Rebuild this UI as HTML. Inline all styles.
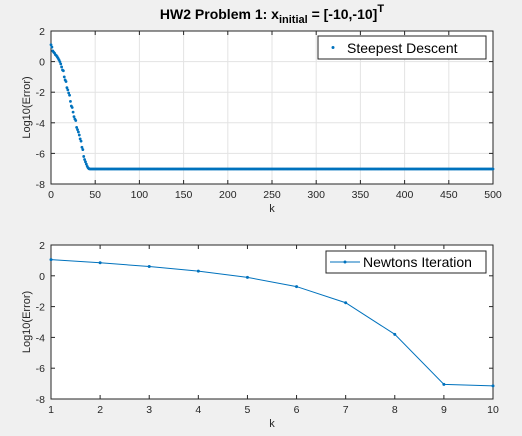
<!DOCTYPE html>
<html><head><meta charset="utf-8"><style>
body{margin:0;background:#f0f0f0;}
svg{display:block;font-family:"Liberation Sans",sans-serif;}
</style></head><body>
<svg id="c" width="522" height="436"></svg>
<script>
const sdHead=[1.1,0.95,0.7,0.62,0.55,0.45,0.4,0.32,0.22,0.12,0.0,-0.15,-0.35,-0.55,-0.6,-1.0,-1.2,-1.3,-1.7,-1.85,-2.05,-2.2,-2.6,-2.9,-3.0,-3.3,-3.6,-3.75,-3.85,-4.3,-4.45,-4.6,-4.8,-5.05,-5.2,-5.6,-5.75,-6.2,-6.4,-6.55,-6.7,-6.85,-6.95,-7.0];
const sdPlateauValue=-7.02;
const sdPlateauCount=457;
const sdValues=sdHead.concat(Array(sdPlateauCount).fill(sdPlateauValue));
const nwK=[1,2,3,4,5,6,7,8,9,10];
const nwValues=[1.05,0.85,0.6,0.3,-0.1,-0.7,-1.75,-3.8,-7.05,-7.15];
const yTicks=[2,0,-2,-4,-6,-8];
const xTicksTop=[0,50,100,150,200,250,300,350,400,450,500];
const xTicksBot=[1,2,3,4,5,6,7,8,9,10];
const NS="http://www.w3.org/2000/svg";
const svg=document.getElementById('c');
function mk(t,a,p){const e=document.createElementNS(NS,t);for(const k in a)e.setAttribute(k,a[k]);(p||svg).appendChild(e);return e;}
function axes(L,R,T,B,x0,x1,y0,y1,xt,grid,name){
  const g=mk('g',{});
  
  
  const sx=v=>L+(v-x0)/(x1-x0)*(R-L), sy=v=>B-(v-y0)/(y1-y0)*(B-T);
  mk('rect',{x:L,y:T,width:R-L,height:B-T,fill:'#fff'},g);
  if(grid){xt.forEach(v=>mk('line',{x1:sx(v),x2:sx(v),y1:T,y2:B,stroke:'#e3e3e3','stroke-width':1},g));
    yTicks.forEach(v=>mk('line',{x1:L,x2:R,y1:sy(v),y2:sy(v),stroke:'#e3e3e3','stroke-width':1},g));}
  xt.forEach(v=>{mk('line',{x1:sx(v),x2:sx(v),y1:B,y2:B-4,stroke:'#262626'},g);mk('line',{x1:sx(v),x2:sx(v),y1:T,y2:T+4,stroke:'#262626'},g);
    const t=mk('text',{x:sx(v),y:B+14,'text-anchor':'middle','font-size':10.5,fill:'#262626'},g);t.textContent=v;});
  yTicks.forEach(v=>{mk('line',{x1:L,x2:L+4,y1:sy(v),y2:sy(v),stroke:'#262626'},g);mk('line',{x1:R,x2:R-4,y1:sy(v),y2:sy(v),stroke:'#262626'},g);
    const t=mk('text',{x:L-6,y:sy(v)+4,'text-anchor':'end','font-size':10.5,fill:'#262626'},g);t.textContent=v;});
  mk('rect',{x:L,y:T,width:R-L,height:B-T,fill:'none',stroke:'#262626','stroke-width':1},g);
  const xl=mk('text',{x:(L+R)/2,y:B+28,'text-anchor':'middle','font-size':11,fill:'#262626'},g);xl.textContent='k';
  const yl=mk('text',{x:0,y:0,transform:`translate(${L-21},${(T+B)/2}) rotate(-90)`,'text-anchor':'middle','font-size':11,fill:'#262626'},g);yl.textContent='Log10(Error)';
  return {sx,sy,g};
}
const t=mk('text',{x:272,y:19,'text-anchor':'middle','font-size':14,'font-weight':'bold',fill:'#000'});

t.innerHTML='HW2 Problem 1: x<tspan font-size="11" dy="4">initial</tspan><tspan dy="-4"> = [-10,-10]</tspan><tspan font-size="11" dy="-7">T</tspan>';
const A=axes(51,493,31,184,0,500,-8,2,xTicksTop,true,'steepest-descent-plot');
sdValues.forEach((v,i)=>{const c=mk('circle',{cx:A.sx(i),cy:A.sy(v),r:1.4,fill:'#0072bd'},A.g);
  });
const lg1=mk('g',{});
mk('rect',{x:318,y:36,width:168,height:23,fill:'#fff',stroke:'#262626'},lg1);
mk('circle',{cx:333,cy:47.5,r:1.5,fill:'#0072bd'},lg1);
const l1=mk('text',{x:347,y:53,'font-size':14,fill:'#000'},lg1);l1.textContent='Steepest Descent';
const B2=axes(51,493,245,399,1,10,-8,2,xTicksBot,false,'newton-plot');
const pts=nwK.map((k,i)=>B2.sx(k)+','+B2.sy(nwValues[i])).join(' ');
const pl=mk('polyline',{points:pts,fill:'none',stroke:'#0072bd','stroke-width':1},B2.g);

nwK.forEach((k,i)=>{const c=mk('circle',{cx:B2.sx(k),cy:B2.sy(nwValues[i]),r:1.5,fill:'#0072bd'},B2.g);
  });
const lg2=mk('g',{});
mk('rect',{x:326,y:251,width:160,height:22,fill:'#fff',stroke:'#262626'},lg2);
mk('line',{x1:330,x2:360,y1:262,y2:262,stroke:'#0072bd'},lg2);
mk('circle',{cx:345,cy:262,r:1.5,fill:'#0072bd'},lg2);
const l2=mk('text',{x:363,y:267,'font-size':14,fill:'#000'},lg2);l2.textContent='Newtons Iteration';
</script>
</body></html>
